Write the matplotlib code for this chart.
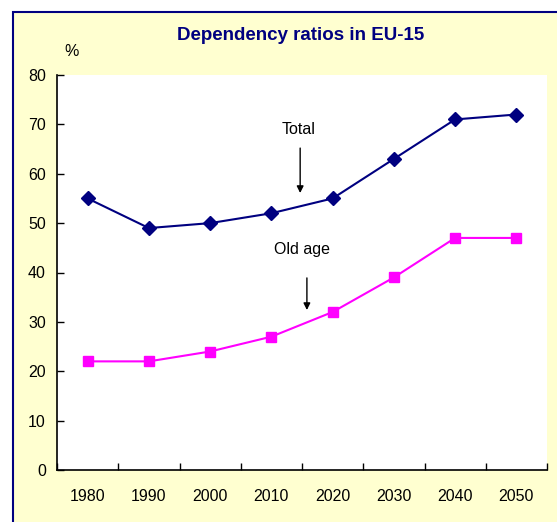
import matplotlib.pyplot as plt
from matplotlib.patches import Rectangle
from matplotlib import font_manager

years = ['1980', '1990', '2000', '2010', '2020', '2030', '2040', '2050']
total = [55, 49, 50, 52, 55, 63, 71, 72]
old_age = [22, 22, 24, 27, 32, 39, 47, 47]

names = {f.name for f in font_manager.fontManager.ttflist}
narrow = 'Liberation Sans Narrow' if 'Liberation Sans Narrow' in names else 'Liberation Sans'
plt.rcParams['font.family'] = [narrow, 'DejaVu Sans']

fig = plt.figure(figsize=(5.57, 5.22), dpi=100)
fig.patch.set_facecolor('white')

# yellow panel with navy frame (runs off the right and bottom edge)
fig.patches.append(Rectangle((13 / 557, -0.05), 1.1, 1 - 12 / 522 + 0.05,
                             transform=fig.transFigure, facecolor='#FFFFD0',
                             edgecolor='#000080', linewidth=1.5, zorder=-10))

ax = fig.add_axes([57 / 557, 1 - 470 / 522, 490 / 557, 395 / 522])
ax.set_zorder(1)
ax.set_facecolor('white')
x = range(len(years))
ax.plot(x, total, color='#000080', marker='D', markersize=7, linewidth=1.5)
ax.plot(x, old_age, color='#FF00FF', marker='s', markersize=7, linewidth=1.5)

ax.set_xlim(-0.5, len(years) - 0.5)
ax.set_ylim(0, 80)
ax.set_yticks(range(0, 81, 10))
ax.set_xticks([i + 0.5 for i in range(-1, len(years))], minor=False)
ax.set_xticklabels([])
ax.set_xticks(list(x), minor=True)
ax.set_xticklabels(years, minor=True)
ax.tick_params(axis='x', which='major', direction='in', length=5, width=1)
ax.tick_params(axis='x', which='minor', length=0, pad=14, labelsize=11.5)
ax.tick_params(axis='y', direction='in', length=5, width=1, labelsize=11.5, pad=8)
for s in ['top', 'right']:
    ax.spines[s].set_visible(False)
for s in ['left', 'bottom']:
    ax.spines[s].set_linewidth(1.2)

fig.text(301 / 557, 1 - 35 / 522, 'Dependency ratios in EU-15', ha='center', va='center',
         fontsize=13.5, fontweight='bold', color='#000080')
fig.text(72 / 557, 1 - 52 / 522, '%', ha='center', va='center', fontsize=11.5)

# labels with vertical arrows
ax.text(3.44, 68.9, 'Total', ha='center', va='center', fontsize=11.5)
ax.annotate('', xy=(3.47, 56.1), xytext=(3.47, 65.2),
            arrowprops=dict(arrowstyle='-|>', color='black', lw=1, shrinkA=0, shrinkB=0,
                            mutation_scale=10))
ax.text(3.5, 44.6, 'Old age', ha='center', va='center', fontsize=11.5)
ax.annotate('', xy=(3.58, 32.4), xytext=(3.58, 38.9),
            arrowprops=dict(arrowstyle='-|>', color='black', lw=1, shrinkA=0, shrinkB=0,
                            mutation_scale=10))

fig.savefig('out.png', dpi=100)
